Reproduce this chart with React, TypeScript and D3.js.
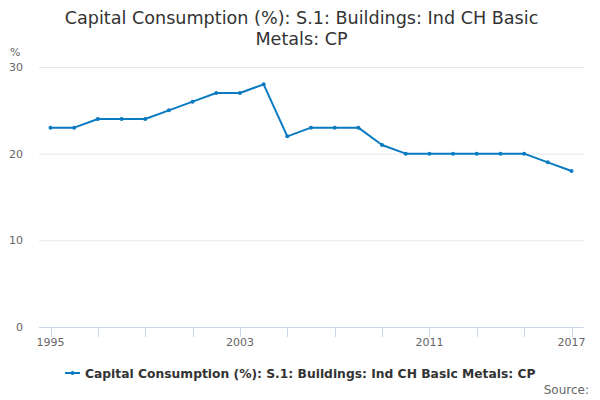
import React from "react";
import * as d3 from "d3";

const years: number[] = [1995,1996,1997,1998,1999,2000,2001,2002,2003,2004,2005,2006,2007,2008,2009,2010,2011,2012,2013,2014,2015,2016,2017];
const values: number[] = [23,23,24,24,24,25,26,27,27,28,22,23,23,23,21,20,20,20,20,20,20,19,18];
const yTicks: number[] = [0,10,20,30];
const xTickYears: number[] = [1995,1997,1999,2001,2003,2005,2007,2009,2011,2013,2015,2017];
const xLabelYears: number[] = [1995,2003,2011,2017];
const titleLines: string[] = ["Capital Consumption (%): S.1: Buildings: Ind CH Basic", "Metals: CP"];
const seriesName = "Capital Consumption (%): S.1: Buildings: Ind CH Basic Metals: CP";

export default function App() {
  const W = 600, H = 400;
  const plotLeft = 39, plotRight = 583.5;
  const x = d3.scaleLinear().domain([1995, 2017]).range([50.5, 571.5]);
  const y = d3.scaleLinear().domain([0, 30]).range([327, 67]);
  const line = d3.line<number>().x((_, i) => x(years[i])).y((d) => y(d));
  const font = "'DejaVu Sans', sans-serif";
  const blue = "#0a7bc1";
  return (
    <svg width={W} height={H} style={{ position: "absolute", left: 0, top: 0, fontFamily: font }}>
      <rect width={W} height={H} fill="#fff" />
      {titleLines.map((t, i) => (
        <text key={i} x={301.5} y={24 + i * 21} textAnchor="middle" fontSize={17.6} fill="#333">{t}</text>
      ))}
      <text x={10} y={56} fontSize={11} fill="#666">%</text>
      {yTicks.map((t) => (
        <g key={t}>
          {t !== 0 && <line x1={plotLeft} x2={plotRight} y1={y(t) + 0.5} y2={y(t) + 0.5} stroke="#e6e6e6" strokeWidth={1} />}
          <text x={23} y={y(t) + 4} textAnchor="end" fontSize={11} fill="#666">{t}</text>
        </g>
      ))}
      <line x1={plotLeft} x2={plotRight} y1={y(0) + 0.5} y2={y(0) + 0.5} stroke="#ccd6eb" strokeWidth={1} />
      {xTickYears.map((yr) => (
        <line key={yr} x1={Math.round(x(yr)) + 0.5} x2={Math.round(x(yr)) + 0.5} y1={y(0)} y2={y(0) + 10} stroke="#ccd6eb" strokeWidth={1} />
      ))}
      {xLabelYears.map((yr) => (
        <text key={yr} x={x(yr)} y={346} textAnchor="middle" fontSize={11} fill="#666">{yr}</text>
      ))}
      <path d={line(values) || ""} fill="none" stroke={blue} strokeWidth={2} strokeLinejoin="round" />
      {values.map((v, i) => (
        <circle key={i} cx={x(years[i])} cy={y(v)} r={2} fill={blue} />
      ))}
      <line x1={65} x2={80} y1={373} y2={373} stroke={blue} strokeWidth={2} />
      <circle cx={72.5} cy={373} r={2} fill={blue} />
      <text x={85} y={377.5} fontSize={12.3} fontWeight="bold" fill="#333">{seriesName}</text>
      <text x={589} y={394} textAnchor="end" fontSize={12} fill="#666">Source:</text>
    </svg>
  );
}
